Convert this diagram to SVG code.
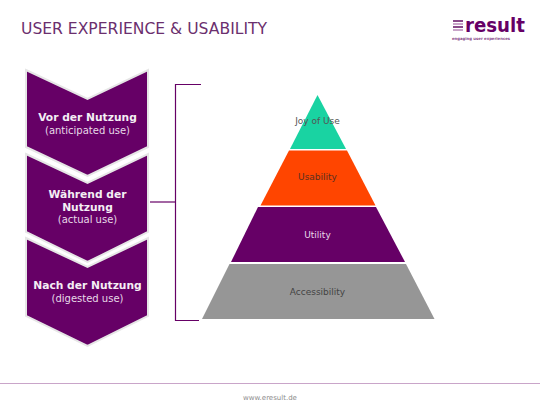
<svg xmlns="http://www.w3.org/2000/svg" width="540" height="405" viewBox="0 0 540 405">
<defs>
<style>
text{font-family:"DejaVu Sans",Verdana,sans-serif}
.chev{fill:#660066;stroke:#e6e6e6;stroke-width:2;stroke-linejoin:miter}
.b{font-size:10.700px;font-weight:700;fill:#f4eef4;text-anchor:middle}
.r{font-size:10px;fill:#e6d9e6;text-anchor:middle}
.l{font-size:9px;text-anchor:middle}
.conn{fill:none;stroke:#660066;stroke-width:1.2}
</style>
</defs>
<rect width="540" height="405" fill="#fff"/>
<text id="title" x="21" y="33.500" font-size="16.500" fill="#6b2f6e" style="font-family:'DejaVu Sans Condensed','DejaVu Sans',sans-serif" textLength="246" lengthAdjust="spacingAndGlyphs">USER EXPERIENCE &amp; USABILITY</text>
<g id="logo">
<rect x="453" y="20" width="10" height="2" fill="#8a4a8a"/>
<rect x="453" y="23" width="10" height="2" fill="#c9a5c9"/>
<rect x="453" y="26" width="10" height="2" fill="#8a4a8a"/>
<rect x="453" y="29" width="10" height="2" fill="#c9a5c9"/>
<text x="465" y="31.500" font-size="20" font-weight="700" fill="#660066" textLength="60" lengthAdjust="spacingAndGlyphs">result</text>
<text x="452" y="40" font-size="4" font-weight="700" fill="#8a4a8a" textLength="58" lengthAdjust="spacingAndGlyphs">engaging user experiences</text>
</g>
<g id="connectors">
<path class="conn" d="M201 84.500H175.500V320.500H199"/>
<path class="conn" d="M150 202H175.500"/>
</g>
<g id="phase-3">
<path class="chev" d="M26 238L87.500 267L148 238V316L87.500 346L26 316Z"/>
<text class="b" x="87.500" y="289">Nach der Nutzung</text>
<text class="r" x="87.500" y="301.500">(digested use)</text>
</g>
<g id="phase-2">
<path class="chev" d="M26 154L87.500 183L148 154V232L87.500 262L26 232Z"/>
<text class="b" x="87.500" y="198">Während der</text>
<text class="b" x="87.500" y="211">Nutzung</text>
<text class="r" x="87.500" y="223">(actual use)</text>
</g>
<g id="phase-1">
<path class="chev" d="M26 70L87.500 99L148 70V147L87.500 176L26 147Z"/>
<text class="b" x="87.500" y="121">Vor der Nutzung</text>
<text class="r" x="87.500" y="133.500">(anticipated use)</text>
</g>
<g id="joy">
<polygon points="317.500,95 346,149 290,149" fill="#19d3a2"/>
<text class="l" x="317.500" y="123.500" fill="#555">Joy of Use</text>
</g>
<g id="usability">
<polygon points="289,150.500 347,150.500 375.500,205.500 260.500,205.500" fill="#ff4500"/>
<text class="l" x="317.500" y="180" fill="#5a3020">Usability</text>
</g>
<g id="utility">
<polygon points="258,207 376,207 405,262 231,262" fill="#660066"/>
<text class="l" x="317.500" y="238" fill="#e6d9e6">Utility</text>
</g>
<g id="accessibility">
<polygon points="229.500,264 406,264 434.500,319 202,319" fill="#969696"/>
<text class="l" x="317.500" y="294.500" fill="#444">Accessibility</text>
</g>
<g id="footer">
<path d="M0 383.500H540" stroke="#c9a5c9" stroke-width="1" fill="none"/>
<text x="270" y="400" font-size="7" fill="#8c8c8c" text-anchor="middle">www.eresult.de</text>
</g>
</svg>
